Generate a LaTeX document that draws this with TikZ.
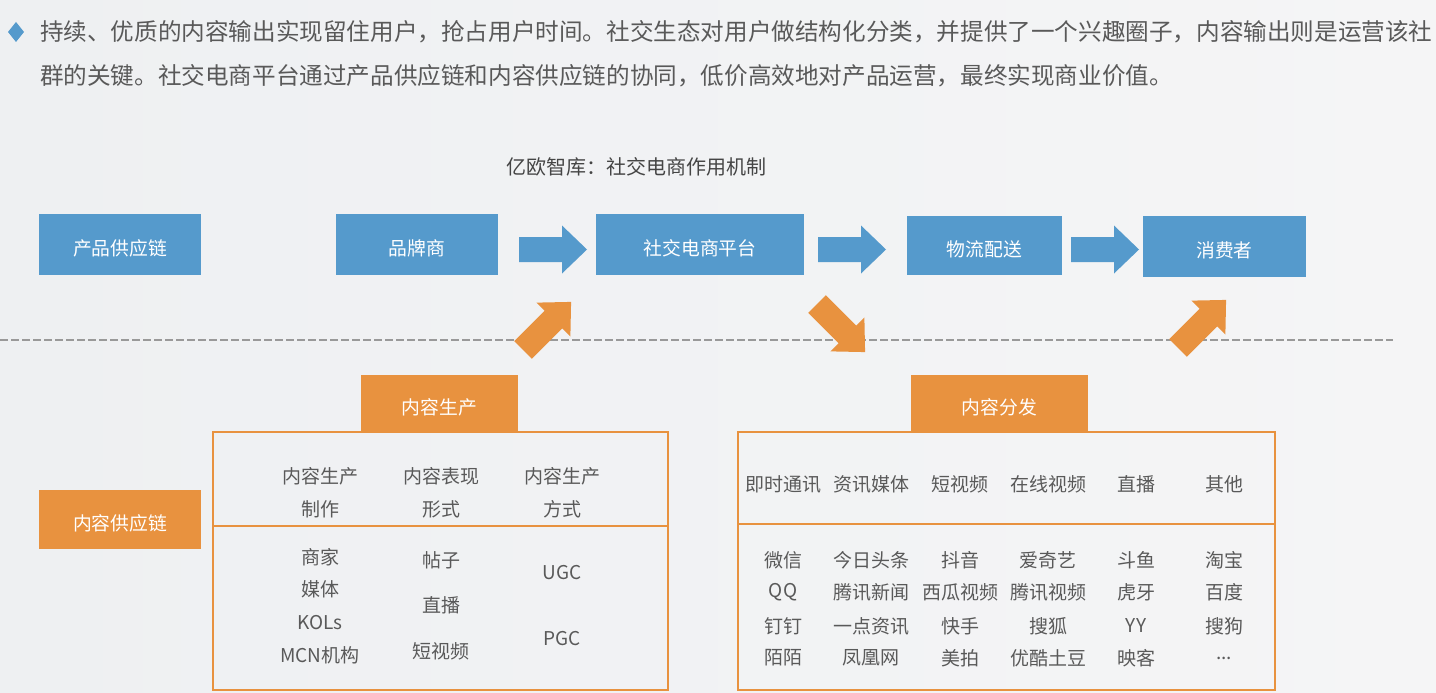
\documentclass[tikz,border=0pt]{standalone}
\usepackage{fontspec}
\setmainfont{Noto Sans CJK SC}
\definecolor{bgl}{HTML}{EEF0F2}
\definecolor{bgr}{HTML}{F5F5F6}
\definecolor{bblue}{HTML}{559ACC}
\definecolor{borange}{HTML}{E8923F}
\definecolor{txt}{HTML}{595959}
\definecolor{ttl}{HTML}{454545}
\tikzset{
  bluebox/.style={fill=bblue, text=white, inner sep=0pt, text height=24pt, text depth=1.5pt, font=\fontsize{18.8}{20}\selectfont},
  orangehead/.style={fill=borange, text=white, inner sep=0pt, text height=24pt, text depth=1.5pt, font=\fontsize{18.8}{20}\selectfont},
  framebox/.style={draw=borange, line width=1.6pt},
  cell/.style={text=txt, inner sep=0pt, font=\fontsize{19}{20}\selectfont, anchor=center},
}
\newcommand{\blockarrowshape}{(0,-12.5) -- (43,-12.5) -- (43,-24) -- (68,0) -- (43,24) -- (43,12.5) -- (0,12.5) -- cycle}
\newcommand{\mydots}{...}
\begin{document}
\begin{tikzpicture}[x=1pt,y=-1pt]
\useasboundingbox (0,0) rectangle (1436,693);
\shade[left color=bgl, right color=bgr] (0,0) rectangle (1436,693);

% bullet and paragraph
\fill[bblue] (16,22) -- (24,32) -- (16,42) -- (8,32) -- cycle;
\node[anchor=west, text=txt, inner sep=0pt, font=\fontsize{23.6}{25}\selectfont] (p1) at (40,32)
 {持续、优质的内容输出实现留住用户，抢占用户时间。社交生态对用户做结构化分类，并提供了一个兴趣圈子，内容输出则是运营该社};
\node[anchor=west, text=txt, inner sep=0pt, font=\fontsize{23.6}{25}\selectfont] (p2) at (40,76)
 {群的关键。社交电商平台通过产品供应链和内容供应链的协同，低价高效地对产品运营，最终实现商业价值。};

% title
\node[text=ttl, inner sep=0pt, font=\fontsize{20}{22}\selectfont] (title) at (636,167) {亿欧智库：社交电商作用机制};

% blue boxes
\node[bluebox, minimum width=162pt, minimum height=61pt] (cpgy) at (120,244.5) {产品供应链};
\node[bluebox, minimum width=162pt, minimum height=61pt] (ppl) at (417,244.5) {品牌商};
\node[bluebox, minimum width=208pt, minimum height=61pt] (pt) at (700,244.5) {社交电商平台};
\node[bluebox, minimum width=155pt, minimum height=59pt] (wl) at (984.5,245.5) {物流配送};
\node[bluebox, minimum width=163pt, minimum height=61pt] (xfz) at (1224.5,246.5) {消费者};

% blue arrows
\begin{scope}[shift={(519,249.5)}] \fill[bblue] \blockarrowshape; \end{scope}
\begin{scope}[shift={(818,249.5)}] \fill[bblue] \blockarrowshape; \end{scope}
\begin{scope}[shift={(1071,249.5)}] \fill[bblue] \blockarrowshape; \end{scope}

% dashed line
\draw[draw=black!40, line width=1.1pt, dash pattern=on 8pt off 3pt] (0,340) -- (1393,340);

% orange arrows
\begin{scope}[shift={(523,350)}, rotate=45] \fill[borange] \blockarrowshape; \end{scope}
\begin{scope}[shift={(817,304)}, rotate=-45] \fill[borange] \blockarrowshape; \end{scope}
\begin{scope}[shift={(1178,348)}, rotate=45] \fill[borange] \blockarrowshape; \end{scope}

% content supply chain label
\node[orangehead, minimum width=162pt, minimum height=59pt] (nrgy) at (120,519.5) {内容供应链};

% left frame
\node[orangehead, minimum width=157pt, minimum height=57pt] (nrsc) at (439.5,403.5) {内容生产};
\draw[framebox] (213,432) rectangle (668,690);
\draw[draw=borange, line width=1.2pt] (213,526) -- (668,526);
\node[cell, align=center] (h1) at (320,492.5) {内容生产\\[13pt]制作};
\node[cell, align=center] (h2) at (441,492.5) {内容表现\\[13pt]形式};
\node[cell, align=center] (h3) at (562,492.5) {内容生产\\[13pt]方式};
\node[cell] (a1) at (320,557) {商家};
\node[cell] (a2) at (320,589) {媒体};
\node[cell] (a3) at (320,623) {KOLs};
\node[cell] (a4) at (320,655) {MCN机构};
\node[cell] (b1) at (441,560) {帖子};
\node[cell] (b2) at (441,605) {直播};
\node[cell] (b3) at (441,651) {短视频};
\node[cell] (c1) at (562,573) {UGC};
\node[cell] (c2) at (562,639) {PGC};

% right frame
\node[orangehead, minimum width=177pt, minimum height=57pt] (nrff) at (999.5,403.5) {内容分发};
\draw[framebox] (738,432) rectangle (1275,690);
\draw[draw=borange, line width=1.2pt] (738,524) -- (1275,524);
\foreach \x/\t [count=\i] in {783/即时通讯, 871/资讯媒体, 960/短视频, 1048/在线视频, 1136/直播, 1224/其他}
  \node[cell] (r\i) at (\x,484) {\t};
\foreach \x/\a/\b/\c/\d [count=\i] in {
  783/微信/QQ/钉钉/陌陌,
  871/今日头条/腾讯新闻/一点资讯/凤凰网,
  960/抖音/西瓜视频/快手/美拍,
  1048/爱奇艺/腾讯视频/搜狐/优酷土豆,
  1136/斗鱼/虎牙/YY/映客,
  1224/淘宝/百度/搜狗/\mydots}{
  \node[cell] (s\i a) at (\x,560) {\a};
  \node[cell] (s\i b) at (\x,592) {\b};
  \node[cell] (s\i c) at (\x,626) {\c};
  \node[cell] (s\i d) at (\x,658) {\d};
}
\end{tikzpicture}
\end{document}
